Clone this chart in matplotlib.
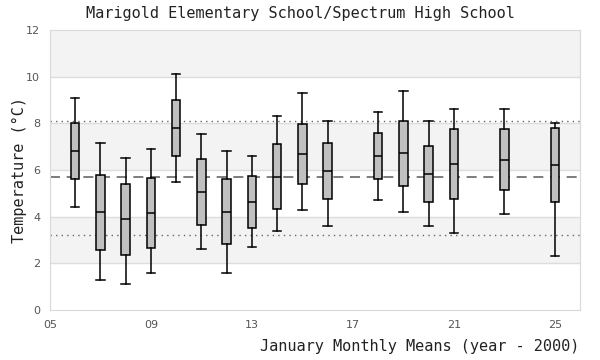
import numpy as np
import matplotlib
matplotlib.use("Agg")
import matplotlib.pyplot as plt

# January monthly means, one box per year (year - 2000)
years = [6, 7, 8, 9, 10, 11, 12, 13, 14, 15, 16, 18, 19, 20, 21, 23, 25]
whislo = [4.40, 1.27, 1.10, 1.57, 5.47, 2.60, 1.57, 2.69, 3.37, 4.27, 3.59, 4.70, 4.19, 3.59, 3.29, 4.10, 2.30]
q1 = [5.61, 2.59, 2.37, 2.64, 6.59, 3.64, 2.81, 3.53, 4.31, 5.39, 4.74, 5.61, 5.31, 4.62, 4.74, 5.13, 4.62]
med = [6.79, 4.19, 3.89, 4.14, 7.79, 5.04, 4.19, 4.62, 5.69, 6.67, 5.94, 6.59, 6.71, 5.81, 6.24, 6.41, 6.20]
q3 = [7.99, 5.77, 5.39, 5.64, 8.99, 6.46, 5.60, 5.73, 7.10, 7.96, 7.14, 7.57, 8.09, 7.01, 7.74, 7.74, 7.79]
whishi = [9.06, 7.17, 6.50, 6.89, 10.10, 7.56, 6.79, 6.59, 8.30, 9.29, 8.09, 8.47, 9.37, 8.09, 8.60, 8.60, 7.99]

ref_mean = 5.7
ref_hi = 8.1
ref_lo = 3.2

xticks = [5, 9, 13, 17, 21, 25]
yticks = [0, 2, 4, 6, 8, 10, 12]

mono = "DejaVu Sans Mono"

fig = plt.figure(figsize=(6, 3.6), dpi=100)
ax = fig.add_axes([0.083, 0.139, 0.884, 0.778])

# alternating bands + grid
for y0 in [2, 6, 10]:
    ax.axhspan(y0, y0 + 2, color="#f3f3f3", zorder=0, lw=0)
for y in yticks[1:-1]:
    ax.axhline(y, color="#dddddd", lw=1, zorder=0.5)

ax.axhline(ref_hi, color="#666666", lw=1, ls=(0, (1, 3)), zorder=1)
ax.axhline(ref_lo, color="#666666", lw=1, ls=(0, (1, 3)), zorder=1)
ax.axhline(ref_mean, color="#666666", lw=1.2, ls=(0, (6, 4)), zorder=1)

stats = []
for i in range(len(years)):
    stats.append(dict(whislo=whislo[i], q1=q1[i], med=med[i], q3=q3[i],
                      whishi=whishi[i], fliers=[]))

ax.bxp(stats, positions=years, widths=0.34, patch_artist=True,
       showfliers=False, manage_ticks=False,
       boxprops=dict(facecolor="#c0c0c0", edgecolor="black", lw=1.1),
       medianprops=dict(color="black", lw=1.1),
       whiskerprops=dict(color="black", lw=1.1),
       capprops=dict(color="black", lw=1.1),
       capwidths=0.34)

ax.set_xlim(5, 26)
ax.set_ylim(0, 12)
ax.set_xticks(xticks)
ax.set_xticklabels(["%02d" % t for t in xticks])
ax.set_yticks(yticks)
ax.tick_params(length=0, labelsize=8, labelcolor="#555555", pad=7)
for s in ax.spines.values():
    s.set_color("#d9d9d9")

fig.text(0.5, 0.962, "Marigold Elementary School/Spectrum High School",
         ha="center", va="center", family=mono, fontsize=11, color="#222222")
fig.text(0.965, 0.037, "January Monthly Means (year - 2000)",
         ha="right", va="center", family=mono, fontsize=11, color="#222222")
fig.text(0.033, 0.527, "Temperature (°C)", rotation=90,
         ha="center", va="center", family=mono, fontsize=11, color="#222222")

fig.savefig("out.png", dpi=100)
